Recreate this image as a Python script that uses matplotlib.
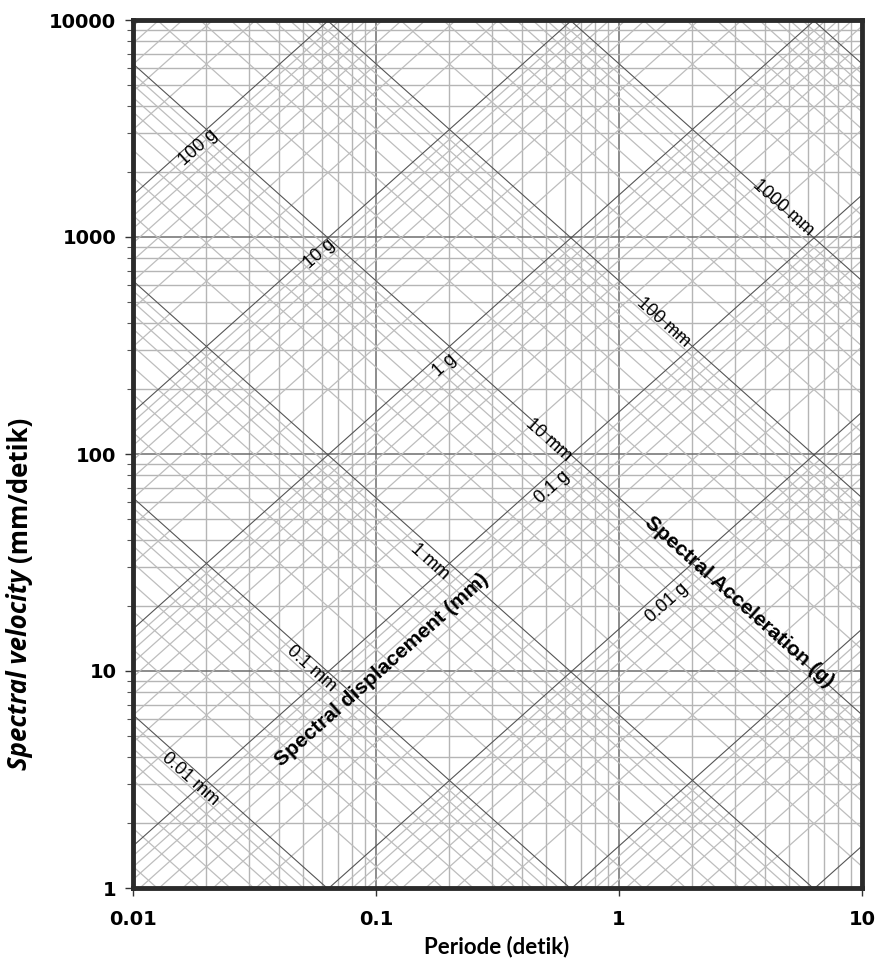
import numpy as np
import matplotlib.pyplot as plt
from matplotlib.ticker import LogLocator, NullFormatter, FixedLocator

# batas sumbu: periode (detik) dan kecepatan spektral (mm/detik)
t_lim = [0.01, 10]
sv_lim = [1, 10000]
x_ticks = [0.01, 0.1, 1, 10]
x_ticklabels = ["0.01", "0.1", "1", "10"]
y_ticks = [1, 10, 100, 1000, 10000]
y_ticklabels = ["1", "10", "100", "1000", "10000"]

# garis diagonal: perpindahan (mm) dan percepatan (g)
disp_decades = [0.001, 0.01, 0.1, 1, 10, 100, 1000, 10000, 100000]
acc_decades = [0.0001, 0.001, 0.01, 0.1, 1, 10, 100, 1000, 10000]
minor_mult = [2, 3, 4, 5, 6, 7, 8, 9]
g_mm = 9810.0

disp_label_txt = ["0.01 mm", "0.1 mm", "1 mm", "10 mm", "100 mm", "1000 mm"]
disp_label_pos = [(0.0172, 3.18), (0.054, 10.3), (0.167, 31.8),
                  (0.515, 116), (1.52, 405), (4.73, 1361)]

acc_label_txt = ["100 g", "10 g", "1 g", "0.1 g", "0.01 g"]
acc_label_pos = [(0.0185, 2571), (0.0583, 835), (0.192, 257),
                 (0.530, 70.4), (1.576, 20.6)]


def sv_disp(sd, t):
    return 2 * np.pi * sd / t


def sv_acc(sa, t):
    return sa * g_mm * t / (2 * np.pi)


fig = plt.figure(figsize=(8.79, 9.74), dpi=100)
ax = fig.add_axes([133 / 879, 1 - 888 / 974, 729 / 879, 868 / 974])
ax.set_xscale("log")
ax.set_yscale("log")

tt = np.array([1e-4, 1e3])

# grid kotak
ax.xaxis.set_minor_locator(LogLocator(base=10, subs=minor_mult))
ax.yaxis.set_minor_locator(LogLocator(base=10, subs=minor_mult))
ax.xaxis.set_minor_formatter(NullFormatter())
ax.yaxis.set_minor_formatter(NullFormatter())
ax.grid(which="minor", color="#b5b5b5", lw=1.0, zorder=1)
ax.grid(which="major", color="#6e6e6e", lw=1.1, zorder=3)
ax.set_axisbelow(True)

# garis diagonal minor
for d in disp_decades:
    for m in minor_mult:
        ax.plot(tt, sv_disp(d * m, tt), color="#bdbdbd", lw=0.9, zorder=2)
for a in acc_decades:
    for m in minor_mult:
        ax.plot(tt, sv_acc(a * m, tt), color="#bdbdbd", lw=0.9, zorder=2)

# garis diagonal utama
for d in disp_decades:
    ax.plot(tt, sv_disp(d, tt), color="#555555", lw=0.8, zorder=4)
for a in acc_decades:
    ax.plot(tt, sv_acc(a, tt), color="#555555", lw=0.8, zorder=4)

ax.set_xlim(t_lim)
ax.set_ylim(sv_lim)

# sudut kemiringan garis di layar
p0 = ax.transData.transform((1, 1))
p1 = ax.transData.transform((10, 10))
ang = np.degrees(np.arctan2(p1[1] - p0[1], p1[0] - p0[0]))

for txt, (t, v) in zip(disp_label_txt, disp_label_pos):
    ax.text(t, v, txt, rotation=-ang, ha="center", va="center",
            rotation_mode="anchor", fontsize=13, family="Liberation Sans",
            zorder=6)
for txt, (t, v) in zip(acc_label_txt, acc_label_pos):
    ax.text(t, v, txt, rotation=ang, ha="center", va="center",
            rotation_mode="anchor", fontsize=13, family="Liberation Sans",
            zorder=6)

ax.text(0.106, 10.1, "Spectral displacement (mm)", rotation=ang,
        ha="center", va="center", rotation_mode="anchor", fontsize=15,
        fontweight="bold", family="Liberation Sans", zorder=6)
ax.text(3.12, 20.8, "Spectral Acceleration (g)", rotation=-ang,
        ha="center", va="center", rotation_mode="anchor", fontsize=15,
        fontweight="bold", family="Liberation Sans", zorder=6)

# tick dan label sumbu
ax.xaxis.set_major_locator(FixedLocator(x_ticks))
ax.yaxis.set_major_locator(FixedLocator(y_ticks))
ax.set_xticklabels(x_ticklabels, fontsize=14, fontweight="bold",
                   family="DejaVu Sans")
ax.set_yticklabels(y_ticklabels, fontsize=14, fontweight="bold",
                   family="DejaVu Sans")
ax.tick_params(axis="x", which="major", length=6, width=1, pad=10,
               color="#333333")
ax.tick_params(axis="x", which="minor", length=0)
ax.tick_params(axis="y", which="major", length=6, width=1, pad=6,
               color="#333333")
ax.tick_params(axis="y", which="minor", length=4, width=0.8,
               color="#555555")

for s in ax.spines.values():
    s.set_linewidth(3.5)
    s.set_color("#2b2b2b")
    s.set_zorder(10)

fig.text(497 / 879, 1 - 947 / 974, "Periode (detik)", ha="center",
         va="center", fontsize=16, fontweight="bold", family="Lato")

yl1 = fig.text(20 / 879, 1 - 770 / 974, "Spectral velocity ", rotation=90,
               ha="center", va="bottom", fontsize=18.5, fontweight="bold",
               style="italic", family="Open Sans")
ax.annotate("(mm/detik)", xy=(0.5, 1), xycoords=yl1, rotation=90,
            ha="center", va="bottom", fontsize=18.5, fontweight="bold",
            family="Open Sans", annotation_clip=False)

fig.savefig("out.png", dpi=100)
